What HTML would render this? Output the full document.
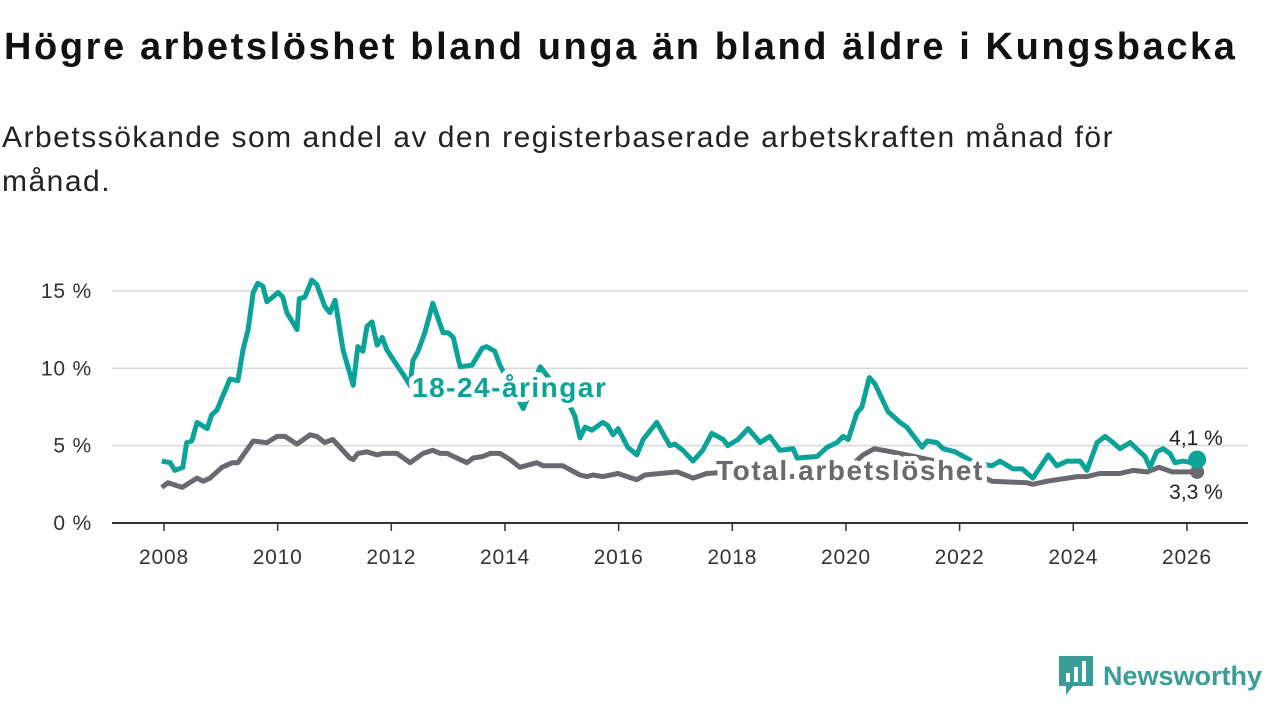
<!DOCTYPE html>
<html><head><meta charset="utf-8"><style>
body{margin:0;width:1280px;height:720px;background:#fff;font-family:"Liberation Sans","DejaVu Sans",sans-serif;overflow:hidden;position:relative}
h1{position:absolute;left:4px;top:26px;margin:0;font-size:38px;font-weight:bold;color:#111;letter-spacing:2.6px;white-space:nowrap}
p{position:absolute;left:2px;top:116px;margin:0;font-size:30px;line-height:44px;color:#222;width:1200px;letter-spacing:1.5px}
svg{position:absolute;left:0;top:0}
</style></head><body>
<h1>Högre arbetslöshet bland unga än bland äldre i Kungsbacka</h1>
<p>Arbetssökande som andel av den registerbaserade arbetskraften månad för månad.</p>
<svg id="chart" width="1280" height="720"></svg>
<script>
const yTicks=[0,5,10,15];
const xTicks=[2008,2010,2012,2014,2016,2018,2020,2022,2024,2026];
const youthYears=[2007.96,2008.11,2008.19,2008.33,2008.40,2008.49,2008.58,2008.76,2008.84,2008.93,2009.16,2009.30,2009.39,2009.48,2009.57,2009.65,2009.74,2009.81,2010.01,2010.09,2010.16,2010.34,2010.38,2010.48,2010.60,2010.69,2010.83,2010.92,2011.01,2011.15,2011.33,2011.41,2011.50,2011.57,2011.66,2011.75,2011.84,2011.92,2012.10,2012.21,2012.33,2012.38,2012.47,2012.59,2012.73,2012.91,2013.00,2013.09,2013.21,2013.42,2013.60,2013.68,2013.82,2013.91,2014.32,2014.62,2015.11,2015.23,2015.32,2015.41,2015.53,2015.72,2015.81,2015.90,2015.99,2016.16,2016.32,2016.43,2016.67,2016.90,2016.99,2017.13,2017.31,2017.48,2017.64,2017.84,2017.92,2018.10,2018.28,2018.49,2018.66,2018.84,2019.07,2019.14,2019.49,2019.67,2019.84,2019.95,2020.04,2020.19,2020.28,2020.41,2020.51,2020.74,2020.95,2021.07,2021.34,2021.43,2021.60,2021.71,2021.92,2022.27,2022.57,2022.71,2022.94,2023.10,2023.29,2023.56,2023.71,2023.89,2024.12,2024.24,2024.42,2024.56,2024.70,2024.82,2025.00,2025.26,2025.35,2025.47,2025.58,2025.70,2025.79,2025.93,2026.09,2026.18];
const youthVals=[4.0,3.9,3.4,3.6,5.2,5.3,6.5,6.1,7.0,7.3,9.3,9.2,11.2,12.5,14.9,15.5,15.3,14.3,14.9,14.6,13.6,12.5,14.5,14.6,15.7,15.4,14.0,13.6,14.4,11.2,8.9,11.4,11.1,12.7,13.0,11.5,12.0,11.2,10.2,9.6,8.9,10.5,11.1,12.3,14.2,12.3,12.3,12.0,10.1,10.2,11.3,11.4,11.1,10.2,7.4,10.1,7.8,6.9,5.5,6.2,6.0,6.5,6.3,5.7,6.1,4.9,4.4,5.4,6.5,5.0,5.1,4.7,4.0,4.7,5.8,5.4,5.0,5.4,6.1,5.2,5.6,4.7,4.8,4.2,4.3,4.9,5.2,5.6,5.4,7.1,7.5,9.4,9.0,7.2,6.5,6.2,4.9,5.3,5.2,4.8,4.6,3.9,3.7,4.0,3.5,3.5,2.9,4.4,3.7,4.0,4.0,3.4,5.2,5.6,5.2,4.8,5.2,4.3,3.6,4.6,4.8,4.5,3.9,4.0,3.9,4.1];
const totalYears=[2007.96,2008.07,2008.32,2008.58,2008.69,2008.81,2009.02,2009.20,2009.30,2009.57,2009.81,2009.99,2010.13,2010.34,2010.57,2010.69,2010.83,2010.97,2011.27,2011.33,2011.41,2011.57,2011.75,2011.85,2012.10,2012.33,2012.56,2012.73,2012.86,2012.98,2013.33,2013.44,2013.61,2013.74,2013.91,2014.09,2014.26,2014.56,2014.67,2015.02,2015.32,2015.44,2015.55,2015.72,2015.99,2016.15,2016.32,2016.46,2016.73,2017.03,2017.31,2017.55,2018.0,2018.5,2019.0,2019.5,2020.0,2020.3,2020.5,2020.8,2021.2,2021.7,2022.2,2022.57,2023.19,2023.29,2023.54,2024.07,2024.24,2024.47,2024.82,2025.05,2025.30,2025.51,2025.74,2026.18];
const totalVals=[2.3,2.6,2.3,2.9,2.7,2.9,3.6,3.9,3.9,5.3,5.2,5.6,5.6,5.1,5.7,5.6,5.2,5.4,4.2,4.1,4.5,4.6,4.4,4.5,4.5,3.9,4.5,4.7,4.5,4.5,3.9,4.2,4.3,4.5,4.5,4.1,3.6,3.9,3.7,3.7,3.1,3.0,3.1,3.0,3.2,3.0,2.8,3.1,3.2,3.3,2.9,3.2,3.3,3.3,3.0,3.1,3.4,4.4,4.8,4.6,4.3,3.9,3.3,2.7,2.6,2.5,2.7,3.0,3.0,3.2,3.2,3.4,3.3,3.6,3.3,3.3];

const NS="http://www.w3.org/2000/svg";
const svg=document.getElementById('chart');
const x=v=>164+(v-2008)*56.83;
const y=v=>523-v*15.47;
function mk(t,a,txt){const e=document.createElementNS(NS,t);for(const k in a)e.setAttribute(k,a[k]);if(txt!==undefined)e.textContent=txt;svg.appendChild(e);return e;}
yTicks.forEach(t=>{
  if(t>0){const g=mk('line',{x1:112,x2:1248,y1:y(t),y2:y(t),stroke:'#d9d9d9','stroke-width':1.5});
  
  }
  const l=mk('text',{x:92,y:y(t)+7,'text-anchor':'end','font-size':21,fill:'#333','letter-spacing':0.8},t+' %');
  
  
});
const ax=mk('line',{x1:112,x2:1248,y1:523,y2:523,stroke:'#333','stroke-width':2});


xTicks.forEach(t=>{
  const tk=mk('line',{x1:x(t),x2:x(t),y1:523,y2:531,stroke:'#333','stroke-width':1.5});
  
  
  const l=mk('text',{x:x(t),y:564,'text-anchor':'middle','font-size':21,fill:'#333','letter-spacing':0.8},t);
  
  
});
function path(xs,vs){return xs.map((v,i)=>(i?'L':'M')+x(v).toFixed(1)+','+y(vs[i]).toFixed(1)).join('');}
const tl=mk('path',{d:path(totalYears,totalVals),fill:'none',stroke:'#6b6870','stroke-width':5,'stroke-linejoin':'round'});


const yl=mk('path',{d:path(youthYears,youthVals),fill:'none',stroke:'#0ba398','stroke-width':5,'stroke-linejoin':'round'});


const td=mk('circle',{cx:x(totalYears[totalYears.length-1]),cy:y(totalVals[totalVals.length-1]),r:7,fill:'#6b6870'});


const yd=mk('circle',{cx:x(youthYears[youthYears.length-1]),cy:y(youthVals[youthVals.length-1]),r:9,fill:'#0ba398'});


const lab1=mk('text',{x:412,y:397,'font-size':28,'font-weight':'bold',fill:'#0ba398',stroke:'#fff','stroke-width':10,'paint-order':'stroke','stroke-linejoin':'round','letter-spacing':1.5},'18-24-åringar');


const lab2=mk('text',{x:716,y:480,'font-size':28,'font-weight':'bold',fill:'#6b6870',stroke:'#fff','stroke-width':10,'paint-order':'stroke','stroke-linejoin':'round','letter-spacing':1.6},'Total arbetslöshet');


const v1=mk('text',{x:1196,y:445,'text-anchor':'middle','font-size':21,fill:'#222'},youthVals[youthVals.length-1].toFixed(1).replace('.',',')+' %');


const v2=mk('text',{x:1196,y:499,'text-anchor':'middle','font-size':21,fill:'#222'},totalVals[totalVals.length-1].toFixed(1).replace('.',',')+' %');


</script>
<div style="position:absolute;left:1059px;top:656px;display:flex;align-items:center">
  <svg width="34" height="40" style="position:static"><path d="M0 0H34V30H14L7 39V30H0Z" fill="#3a9e96"/><rect x="7" y="17" width="4" height="9" fill="#fff"/><rect x="15" y="11" width="4" height="15" fill="#fff"/><rect x="23" y="5" width="4" height="21" fill="#fff"/></svg>
  <span style="margin-left:10px;font-size:27px;color:#3a9e96;font-weight:bold">Newsworthy</span>
</div>
</body></html>
